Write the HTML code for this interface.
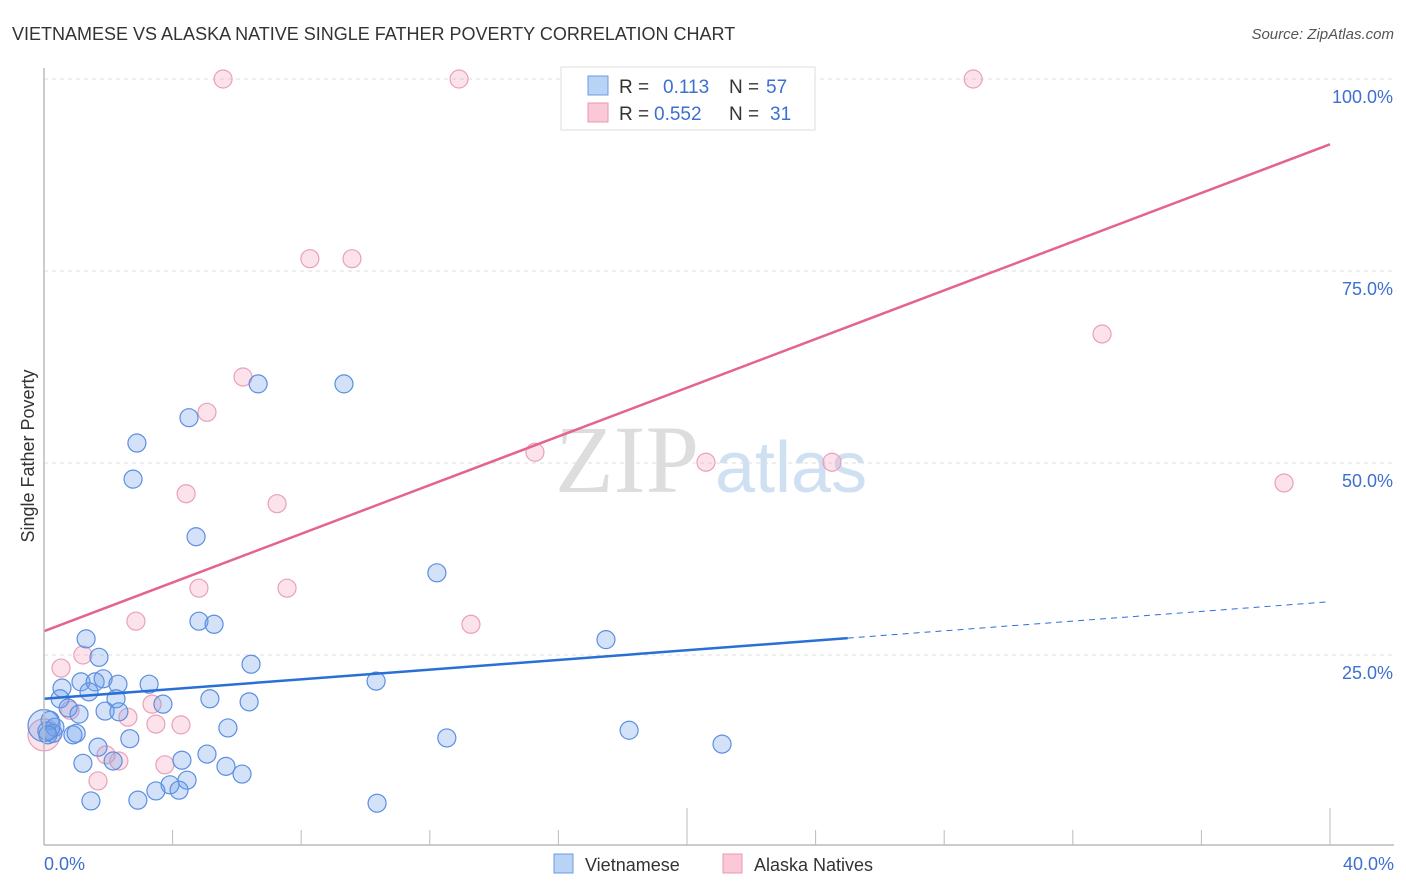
<!DOCTYPE html>
<html><head><meta charset="utf-8"><style>
body{margin:0;background:#fff;font-family:"Liberation Sans",sans-serif;}
#wrap{position:relative;width:1406px;height:892px;overflow:hidden;}
</style></head><body>
<div id="wrap">
<svg id="svg" width="1406" height="892" xmlns="http://www.w3.org/2000/svg">
<text x="12" y="40" font-size="18" fill="#333">VIETNAMESE VS ALASKA NATIVE SINGLE FATHER POVERTY CORRELATION CHART</text>
<text x="1394" y="39" font-size="15" fill="#555" font-style="italic" text-anchor="end">Source: ZipAtlas.com</text>
<text transform="translate(34,456) rotate(-90)" font-size="18" fill="#333" text-anchor="middle">Single Father Poverty</text>
<text x="555" y="492" font-size="96" fill="#ddd" font-family="Liberation Serif">ZIP</text>
<text x="715" y="492" font-size="72" fill="#cfe0f3">atlas</text>
<g id="grid"></g><g id="pts"></g><g id="lines"></g>
<line x1="44" y1="845" x2="1394" y2="845" stroke="#bbb" stroke-width="1.5"/>
<line x1="44" y1="68" x2="44" y2="845" stroke="#bbb" stroke-width="1.5"/>
<text x="44" y="870" font-size="18" fill="#3d6fd0">0.0%</text>
<text x="1394" y="870" font-size="18" fill="#3d6fd0" text-anchor="end">40.0%</text>
<rect x="554" y="854" width="19" height="19" fill="#b8d3f5" stroke="#6a9be0"/>
<text x="585" y="871" font-size="18" fill="#333">Vietnamese</text>
<rect x="723" y="854" width="19" height="19" fill="#fac8d6" stroke="#e898b0"/>
<text x="754" y="871" font-size="18" fill="#333">Alaska Natives</text>
<g>
<rect x="561" y="67" width="254" height="63" fill="#fff" stroke="#ddd"/>
<rect x="588" y="76" width="20" height="19" fill="#b8d3f5" stroke="#6a9be0"/>
<rect x="588" y="103" width="20" height="19" fill="#fac8d6" stroke="#e898b0"/>
<text x="619" y="93" font-size="19" fill="#333">R =</text><text x="663" y="93" font-size="19" fill="#3d6fd0">0.113</text>
<text x="729" y="93" font-size="19" fill="#333">N =</text><text x="766" y="93" font-size="19" fill="#3d6fd0">57</text>
<text x="619" y="120" font-size="19" fill="#333">R =</text><text x="654" y="120" font-size="19" fill="#3d6fd0">0.552</text>
<text x="729" y="120" font-size="19" fill="#333">N =</text><text x="770" y="120" font-size="19" fill="#3d6fd0">31</text>
</g>
</svg></div>
<script>
const blueX=[6.66,9.33,2.89,4.51,2.77,4.73,12.22,4.82,5.29,17.48,1.31,1.71,6.44,1.15,1.59,1.84,2.30,3.27,10.33,0.56,0.50,1.40,2.24,5.16,6.38,0.75,1.09,1.90,2.33,3.70,0.19,0.34,0.09,0.28,0.90,1.00,5.72,18.20,2.67,12.53,1.68,21.09,5.07,4.29,1.21,2.15,5.66,3.92,4.45,6.16,3.48,4.20,1.46,2.92,10.36,0.0,0.12];
const blueY=[60.3,60.3,52.6,55.9,47.9,40.4,35.7,29.4,29.0,27.0,27.1,24.7,23.8,21.5,21.5,21.9,21.2,21.2,21.6,20.7,19.3,20.2,19.3,19.3,18.9,18.1,17.3,17.7,17.6,18.6,16.5,15.6,15.1,14.8,14.6,14.8,15.5,15.2,14.1,14.2,13.0,13.4,12.1,11.3,10.9,11.2,10.5,8.1,8.7,9.5,7.3,7.4,6.0,6.1,5.7,15.8,14.6];
const pinkX=[5.57,12.91,28.90,22.7,8.27,9.58,6.19,5.07,15.27,20.59,24.51,38.57,32.91,4.42,7.25,4.82,7.56,2.86,13.28,1.21,0.53,0.81,2.61,3.36,3.48,4.26,1.93,2.33,3.76,1.68,0.0];
const pinkY=[100,100,100,100,76.6,76.6,61.2,56.6,51.4,50.1,50.1,47.4,66.8,46.0,44.7,33.7,33.7,29.4,29.0,25.0,23.3,17.8,16.9,18.6,16.0,15.9,12.0,11.2,10.7,8.6,14.6];
const yTicks=[25,50,75,100];
const yTickLabels=["25.0%","50.0%","75.0%","100.0%"];
const xTicks=[0,4,8,12,16,20,24,28,32,36,40];
const blueTrend=[19.3,0.316];
const pinkTrend=[28.1,1.585];
const sx=v=>44+v*32.15, sy=v=>847-v*7.68;
const NS="http://www.w3.org/2000/svg";
function mk(tag,attrs,parent){const e=document.createElementNS(NS,tag);for(const k in attrs)e.setAttribute(k,attrs[k]);document.getElementById(parent).appendChild(e);return e;}
yTicks.forEach((t,i)=>{
 const l=mk('line',{x1:44,x2:1394,y1:sy(t),y2:sy(t),stroke:'#ddd','stroke-dasharray':'4,4'},'grid');
 
 
 const tx=mk('text',{x:1393,y:sy(t)+24,'font-size':18,fill:'#3d6fd0','text-anchor':'end'},'grid');
 tx.textContent=yTickLabels[i];
 
 
});
xTicks.forEach((t,i)=>{
 const long=(i===5||i===10);
 const l=mk('line',{x1:sx(t),x2:sx(t),y1:long?808:830,y2:845,stroke:'#bbb'},'grid');
 
 
});
function dots(X,Y,fill,stroke,name){
 X.forEach((x,i)=>{
  const big=(x===0);
  const c=mk('circle',{cx:sx(x),cy:sy(Y[i]),r:big?16:9,fill:fill,stroke:stroke,'stroke-width':1.2},'pts');
  
  
 });
}
dots(pinkX,pinkY,'rgba(245,160,185,0.3)','#eaa0b8','point-alaska');
dots(blueX,blueY,'rgba(110,160,235,0.3)','#5b8fe0','point-vietnamese');
let l=mk('line',{x1:sx(0),y1:sy(blueTrend[0]),x2:sx(25),y2:sy(blueTrend[0]+blueTrend[1]*25),stroke:'#2a6fd6','stroke-width':2.5},'lines');


l=mk('line',{x1:sx(25),y1:sy(blueTrend[0]+blueTrend[1]*25),x2:sx(40),y2:sy(blueTrend[0]+blueTrend[1]*40),stroke:'#2a6fd6','stroke-width':1,'stroke-dasharray':'6,5'},'lines');


l=mk('line',{x1:sx(0),y1:sy(pinkTrend[0]),x2:sx(40),y2:sy(pinkTrend[0]+pinkTrend[1]*40),stroke:'#e4648c','stroke-width':2.5},'lines');


</script>
</body></html>
